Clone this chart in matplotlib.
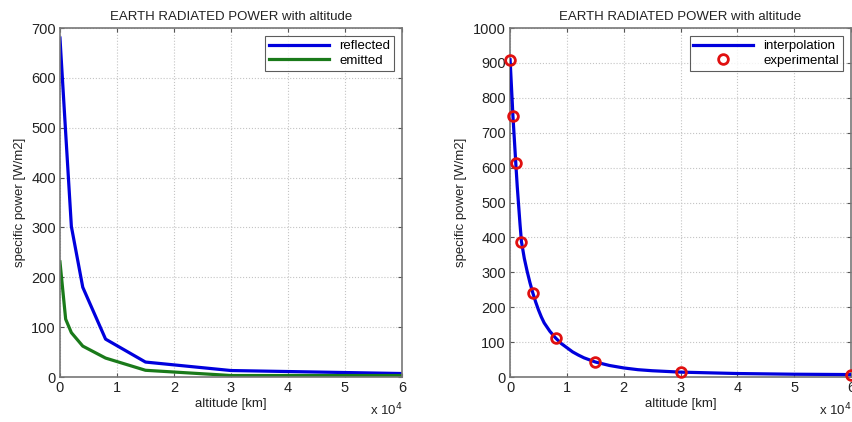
import matplotlib
matplotlib.use("Agg")
import matplotlib.pyplot as plt

plt.rcParams['font.family'] = ['Liberation Sans', 'DejaVu Sans']

# Left panel data
alt_left = [0, 1000, 2000, 4000, 8000, 15000, 30000, 60000]
reflected = [680, 490, 302, 180, 76, 30, 13, 7]
emitted = [231, 116, 89, 62, 38, 13.5, 3, 3]

# Right panel data
alt_exp = [0, 500, 1000, 2000, 4000, 8000, 15000, 30000, 60000]
experimental = [909, 748, 613, 388, 241, 112, 43, 14, 7]
alt_interp = [0, 500, 1000, 1250, 1500, 1750, 2000, 2500, 3000, 3500, 4000,
              4500, 5000, 5500, 6000, 7000, 8000, 9000, 10000, 11000, 12000,
              13000, 15000, 17500, 20000, 22500, 25000, 30000, 40000, 50000, 60000]
interp = [909, 748, 613, 548, 492, 437, 388, 340, 303, 270, 241,
          215, 192, 172, 155, 131, 112, 96, 84, 72, 63,
          55, 43, 33, 26, 21, 18, 14, 10, 8, 7]

xticks = [0, 10000, 20000, 30000, 40000, 50000, 60000]
xticklabels = ['0', '1', '2', '3', '4', '5', '6']
title = 'EARTH RADIATED POWER with altitude'

fig = plt.figure(figsize=(8.53, 4.22), dpi=100)
ax1 = fig.add_axes([0.0703, 0.1066, 0.401, 0.827])
ax2 = fig.add_axes([0.598, 0.1066, 0.3997, 0.827])

def style(ax, ymax, ystep):
    ax.set_xlim(0, 60000)
    ax.set_ylim(0, ymax)
    ax.set_xticks(xticks)
    ax.set_xticklabels(xticklabels)
    ax.set_yticks(list(range(0, ymax + 1, ystep)))
    ax.tick_params(direction='in', top=True, right=True, labelsize=10.5,
                   length=3, color='#555555', labelcolor='#222222', pad=3)
    for s in ax.spines.values():
        s.set_color('#777777')
        s.set_linewidth(1.2)
    ax.grid(True, linestyle=':', color='#c4c4c4', linewidth=0.8)
    ax.set_axisbelow(True)
    ax.set_title(title, fontsize=9.5, color='#222222', pad=6)
    ax.set_xlabel('altitude [km]', fontsize=9.5, color='#222222', labelpad=2)
    ax.set_ylabel('specific power [W/m2]', fontsize=9.5, color='#222222', labelpad=4)
    ax.text(1.0, -0.072, r'x 10$^{4}$', transform=ax.transAxes, ha='right',
            va='top', fontsize=9.5, color='#222222')

ax1.plot(alt_left, reflected, color='#0000dd', lw=2.3, label='reflected')
ax1.plot(alt_left, emitted, color='#1a7a1a', lw=2.3, label='emitted')
style(ax1, 700, 100)
leg1 = ax1.legend(loc='upper right', fontsize=9.5, frameon=True, fancybox=False,
                  edgecolor='#333333', handlelength=4.5, borderpad=0.3,
                  labelspacing=0.2, borderaxespad=0.6)
leg1.get_frame().set_linewidth(0.8)

ax2.plot(alt_interp, interp, color='#0000dd', lw=2.3, label='interpolation', zorder=3)
ax2.plot(alt_exp, experimental, linestyle='none', marker='o', markersize=7,
         markerfacecolor='none', markeredgecolor='#e01010', markeredgewidth=2,
         label='experimental', zorder=4, clip_on=False)
style(ax2, 1000, 100)
leg2 = ax2.legend(loc='upper right', fontsize=9.5, frameon=True, fancybox=False,
                  edgecolor='#333333', handlelength=4.5, borderpad=0.3,
                  labelspacing=0.2, borderaxespad=0.6)
leg2.get_frame().set_linewidth(0.8)

fig.savefig('out.png', dpi=100)
